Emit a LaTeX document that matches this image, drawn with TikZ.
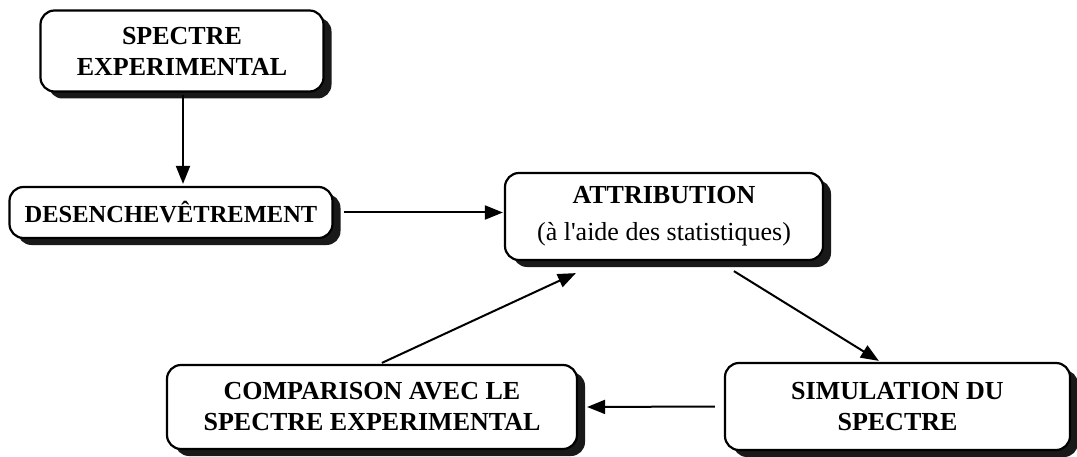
\documentclass[tikz,border=0pt]{standalone}
\usepackage{fontspec}
\setmainfont{Liberation Serif}
\usetikzlibrary{arrows.meta,shadows,calc}
\begin{document}
\begin{tikzpicture}[x=1pt,y=1pt,
  box/.style={draw=black, line width=2.2pt, rounded corners=14pt, fill=white,
    align=center, inner sep=0pt,
    font=\fontsize{26}{31}\selectfont\bfseries,
    drop shadow={shadow xshift=8pt, shadow yshift=-7pt, fill=black, opacity=0.9}},
  arr/.style={line width=2pt, -{Triangle[length=18pt,width=14pt]}}]
\useasboundingbox (0,0) rectangle (1077,456);
\node[box, minimum width=283pt, minimum height=81pt] (spec) at (182,405) {SPECTRE\\EXPERIMENTAL};
\node[box, minimum width=323pt, minimum height=51pt, font=\fontsize{24.5}{30}\selectfont\bfseries] (des) at (171,243.5) {DESENCHEV\^ETREMENT};
\node[box, minimum width=318pt, minimum height=87pt] (attr) at (664,239.5) {ATTRIBUTION\\[6pt]{\mdseries (à l\textquotesingle aide des statistiques)}};
\node[box, minimum width=410pt, minimum height=84pt] (comp) at (372,49) {COMPARISON AVEC LE\\SPECTRE EXPERIMENTAL};
\node[box, minimum width=345pt, minimum height=87pt] (simu) at (897.5,49.5) {SIMULATION DU\\SPECTRE};
\draw[arr] ($(spec.south)+(1,-2)$) -- ($(spec.south |- des.north)+(1,2)$);
\draw[arr] ($(des.east)+(10,0)$) -- ($(attr.west |- des.east)+(-1,0)$);
\draw[arr] ($(attr.south west)+(230,-10)$) -- ($(simu.north west)+(155,1)$);
\draw[arr] ($(simu.west)+(-9,0)$) -- ($(comp.east)+(9,0)$);
\draw[arr] ($(comp.north west)+(216,1)$) -- ($(attr.south west)+(72,-12)$);
\end{tikzpicture}
\end{document}
